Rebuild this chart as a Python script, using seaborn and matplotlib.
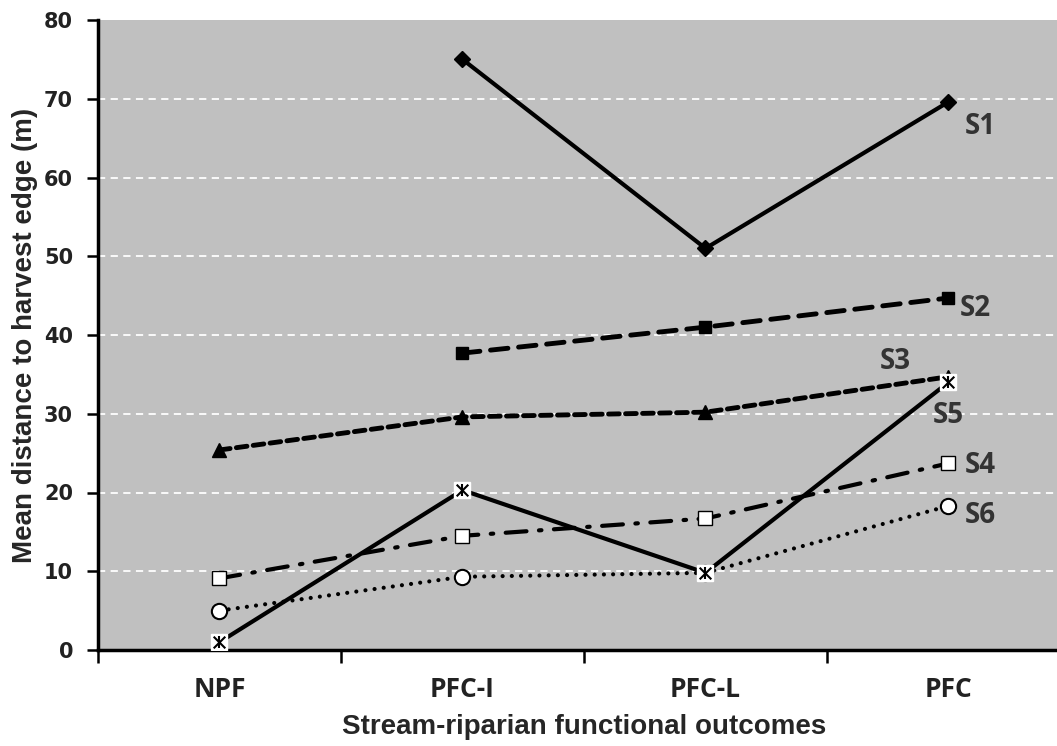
import numpy as np
import pandas as pd
import matplotlib
matplotlib.use('Agg')
import matplotlib.pyplot as plt
import seaborn as sns

categories = ['NPF', 'PFC-I', 'PFC-L', 'PFC']
s1 = [np.nan, 75.0, 51.0, 69.6]
s2 = [np.nan, 37.7, 41.0, 44.7]
s3 = [25.4, 29.6, 30.2, 34.7]
s4 = [9.1, 14.5, 16.7, 23.7]
s5 = [1.0, 20.3, 9.8, 34.0]
s6 = [5.0, 9.3, 9.8, 18.3]
series_names = ['S1', 'S2', 'S3', 'S4', 'S5', 'S6']
label_pos = {'S1': (3.13, 66.5), 'S2': (3.11, 43.4), 'S3': (2.78, 36.6),
             'S5': (3.0, 29.8), 'S4': (3.13, 23.4), 'S6': (3.13, 17.1)}

sns.set_style('white')
fig = plt.figure(figsize=(10.57, 7.46), dpi=100)
ax = fig.add_axes([98 / 1057, 96 / 746, 972 / 1057, 630 / 746])
ax.set_facecolor('#c0c0c0')

x = np.arange(len(categories))
styles = {
    'S1': dict(ls='-', lw=3, marker='D', ms=8, mfc='black', mec='black'),
    'S2': dict(ls=(0, (3.6, 2.2)), lw=3.5, marker='s', ms=9, mfc='black', mec='black'),
    'S3': dict(ls=(0, (2.2, 1.3)), lw=3.5, marker='^', ms=10, mfc='black', mec='black'),
    'S4': dict(ls=(0, (5, 3, 0.6, 3)), lw=3, marker='s', ms=10, mfc='white', mec='black', mew=1),
    'S5': dict(ls='-', lw=3, marker='s', ms=11, mfc='white', mec='white', mew=1),
    'S6': dict(ls=(0, (0.01, 2.2)), lw=3, marker='o', ms=11, mfc='white', mec='black', mew=1.5),
}
data = dict(zip(series_names, [s1, s2, s3, s4, s5, s6]))
for name in ['S6', 'S4', 'S3', 'S2', 'S1', 'S5']:
    st = styles[name]
    sns.lineplot(x=x, y=data[name], ax=ax, color='black', linestyle=st['ls'],
                 linewidth=st['lw'], marker=st['marker'], markersize=st['ms'],
                 markerfacecolor=st['mfc'], markeredgecolor=st['mec'],
                 markeredgewidth=st.get('mew', 1), dash_capstyle='round',
                 solid_capstyle='butt', zorder=3)
# asterisk over S5 markers
ax.scatter(x, s5, marker='x', s=70, color='black', linewidths=1.5, zorder=4)
ax.scatter(x, s5, marker='|', s=70, color='black', linewidths=1.5, zorder=4)

for name, (lx, ly) in label_pos.items():
    ax.text(lx, ly, name, fontsize=20, fontweight='bold', color='#333333',
            family='Open Sans', ha='center', va='center', zorder=5)

ax.set_ylim(0, 80)
ax.set_xlim(-0.5, 3.5)
ax.set_yticks(range(0, 81, 10))
ax.set_yticklabels([str(v) for v in range(0, 81, 10)], fontsize=15, fontweight='heavy',
                   color='#222222')
for v in range(10, 80, 10):
    ax.axhline(v, color='white', lw=1.3, ls=(0, (4, 3)), zorder=1)

ax.set_xticks(np.arange(-0.5, 3.6, 1))
ax.set_xticklabels([])
ax.set_xticks(x, minor=True)
ax.set_xticklabels(categories, minor=True, fontsize=19, fontweight='bold',
                   family='Open Sans', color='#222222')
ax.tick_params(axis='x', which='minor', bottom=True, length=0, pad=19)
ax.tick_params(axis='x', which='major', bottom=True, length=9, width=1.8,
               direction='out', color='black')
ax.tick_params(axis='y', left=True, length=8, width=1.8, direction='out',
               color='black', pad=10)

for side in ['top', 'right']:
    ax.spines[side].set_visible(False)
for side in ['left', 'bottom']:
    ax.spines[side].set_linewidth(2.5)
    ax.spines[side].set_color('black')

ax.set_xlabel('Stream-riparian functional outcomes', fontsize=20, fontweight='bold',
              family='Liberation Sans', labelpad=8)
ax.set_ylabel('Mean distance to harvest edge (m)', fontsize=20, fontweight='bold',
              family='Liberation Sans', labelpad=4)

fig.savefig('out.png', dpi=100)
